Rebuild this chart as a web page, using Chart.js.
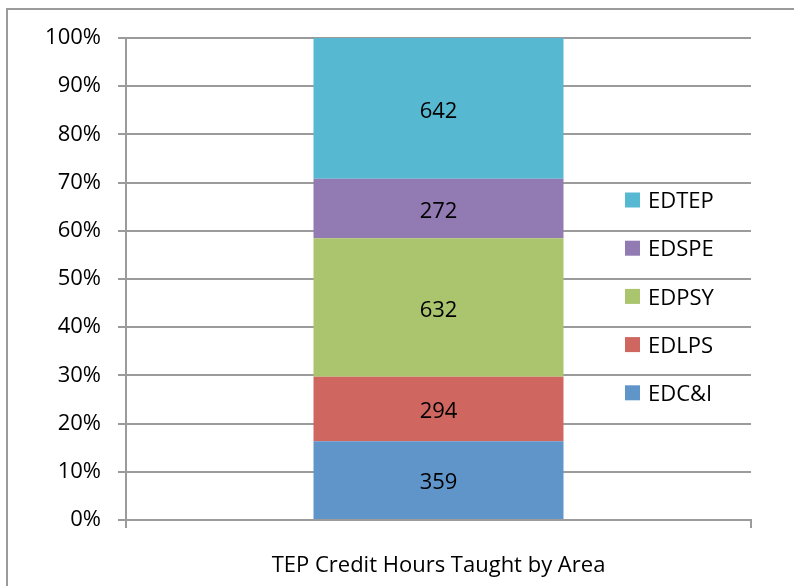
<!DOCTYPE html>
<html>
<head>
<meta charset="utf-8">
<script src="https://cdn.jsdelivr.net/npm/chart.js@4"></script>
<style>
  html, body { margin: 0; padding: 0; background: #fff; overflow: hidden; }
  #wrap { position: relative; width: 794px; height: 586px; }
  #frame { position: absolute; left: 6px; top: 8px; width: 820px; height: 620px;
           border-left: 2px solid #9b9b9b; border-top: 2px solid #9b9b9b; }
  canvas { position: absolute; left: 0; top: 0; }
</style>
</head>
<body>
<div id="wrap">
  <div id="frame"></div>
  <canvas id="myChart" width="794" height="586"></canvas>
</div>
<script>
var category = ['TEP Credit Hours Taught by Area']
var areas = ['EDC&I', 'EDLPS', 'EDPSY', 'EDSPE', 'EDTEP']
var hours = [359, 294, 632, 272, 642]
var colors = ['#5f95c9', '#cf6660', '#abc46e', '#927ab3', '#57b9d1']
var yTicks = [0, 10, 20, 30, 40, 50, 60, 70, 80, 90, 100]

var FONT = '"Open Sans", Lato, sans-serif'
var FSIZE = 22
var total = 0
for (var i = 0; i < hours.length; i++) total += hours[i]

var datasets = []
for (var i = 0; i < areas.length; i++) {
    datasets.push({
        label: areas[i],
        data: [hours[i] / total * 100],
        raw: hours[i],
        backgroundColor: colors[i],
        borderWidth: 0,
        categoryPercentage: 1,
        barPercentage: 0.4
    })
}

// value labels in the middle of each segment
var valueLabels = {
    id: 'valueLabels',
    afterDatasetsDraw: function(chart) {
        var ctx = chart.ctx
        ctx.save()
        ctx.font = FSIZE + 'px ' + FONT
        ctx.fillStyle = '#000'
        ctx.textAlign = 'center'
        ctx.textBaseline = 'middle'
        chart.data.datasets.forEach(function(ds, i) {
            var bar = chart.getDatasetMeta(i).data[0]
            ctx.fillText(String(ds.raw), bar.x, (bar.y + bar.base) / 2 + 3)
        })
        ctx.restore()
    }
}

// legend sitting over the right part of the plot, like the original
var sideLegend = {
    id: 'sideLegend',
    afterDraw: function(chart) {
        var ctx = chart.ctx
        var area = chart.chartArea
        var x = area.right - 126
        var y0 = area.top + 162
        var step = 48.2
        ctx.save()
        ctx.font = FSIZE + 'px ' + FONT
        ctx.textBaseline = 'middle'
        ctx.textAlign = 'left'
        var ds = chart.data.datasets
        for (var k = 0; k < ds.length; k++) {
            var d = ds[ds.length - 1 - k]
            var cy = y0 + k * step
            ctx.fillStyle = d.backgroundColor
            ctx.fillRect(x, cy - 7.5, 15, 15)
            ctx.fillStyle = '#000'
            ctx.fillText(d.label, x + 23, cy + 2)
        }
        ctx.restore()
    }
}

var ctx = document.getElementById('myChart').getContext('2d')
var chart = new Chart(ctx, {
    type: 'bar',
    data: { labels: category, datasets: datasets },
    plugins: [valueLabels, sideLegend],
    options: {
        responsive: false,
        animation: false,
        layout: { padding: { top: 38, right: 43, left: 0, bottom: 0 } },
        plugins: { legend: { display: false }, tooltip: { enabled: false } },
        scales: {
            x: {
                stacked: true,
                grid: { drawOnChartArea: false, color: '#9b9b9b', lineWidth: 2, tickLength: 8, offset: true },
                border: { color: '#9b9b9b', width: 2 },
                ticks: { color: '#000', font: { family: FONT, size: FSIZE }, padding: 25, maxRotation: 0 },
                afterFit: function(s) { s.height = 66 }
            },
            y: {
                stacked: true,
                min: 0,
                max: 100,
                afterBuildTicks: function(s) { s.ticks = yTicks.map(function(v) { return { value: v } }) },
                grid: { color: '#9b9b9b', lineWidth: 2, tickLength: 8 },
                border: { color: '#9b9b9b', width: 2 },
                ticks: {
                    color: '#000',
                    font: { family: FONT, size: FSIZE },
                    padding: 17,
                    callback: function(v) { return v + '%' }
                },
                afterFit: function(s) { s.width = 126 }
            }
        }
    }
})
</script>
</body>
</html>
